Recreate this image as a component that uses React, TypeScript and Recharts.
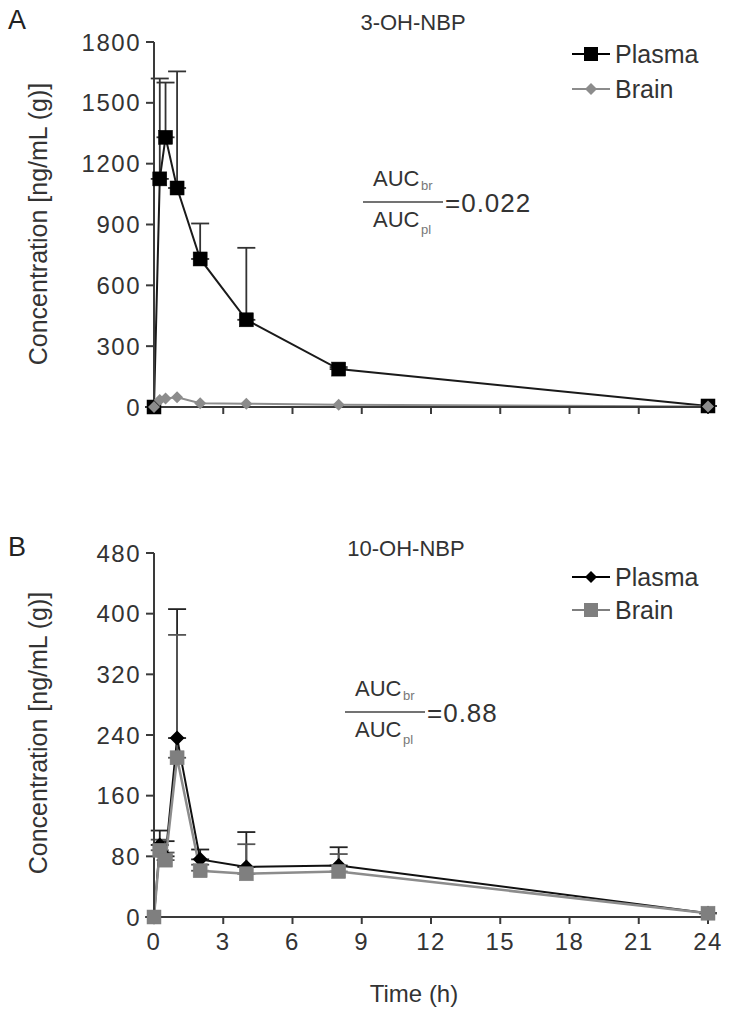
import React from 'react';
import { LineChart, Line, XAxis, YAxis, ErrorBar } from 'recharts';

// ---- data ----
const times = [0, 0.25, 0.5, 1, 2, 4, 8, 24];

// Panel A: 3-OH-NBP
const aPlasma = [0, 1125, 1330, 1080, 730, 430, 187, 5];
const aPlasmaErr = [0, 495, 270, 575, 175, 355, 10, 0];
const aBrain = [0, 35, 42, 48, 19, 16, 11, 3];

// Panel B: 10-OH-NBP
const bPlasma = [0, 95, 80, 236, 76, 66, 68, 5];
const bPlasmaErr = [0, 19, 20, 170, 13, 46, 24, 0];
const bBrain = [0, 88, 75, 210, 61, 57, 60, 5];
const bBrainErr = [0, 14, 10, 162, 8, 39, 23, 0];

const xTicks = [0, 3, 6, 9, 12, 15, 18, 21, 24];
const aYTicks = [0, 300, 600, 900, 1200, 1500, 1800];
const bYTicks = [0, 80, 160, 240, 320, 400, 480];

const aTitle = '3-OH-NBP';
const bTitle = '10-OH-NBP';
const aRatio = '=0.022';
const bRatio = '=0.88';
const yLabel = 'Concentration [ng/mL (g)]';
const xLabel = 'Time (h)';
const seriesNames = ['Plasma', 'Brain'];

const dataA = times.map((t, i) => ({
  t,
  plasma: aPlasma[i],
  plasmaErr: [0, aPlasmaErr[i]],
  brain: aBrain[i],
}));
const dataB = times.map((t, i) => ({
  t,
  plasma: bPlasma[i],
  plasmaErr: [0, bPlasmaErr[i]],
  brain: bBrain[i],
  brainErr: [0, bBrainErr[i]],
}));

const FONT = '"Liberation Sans", Arial, Helvetica, sans-serif';
const AXIS = '#3a3a3a';
const GRAY = '#8c8c8c';

const squareDot = (size: number, fill: string) => (p: any) => {
  if (p.cx == null || p.cy == null) return <g key={p.index} />;
  return (
    <rect key={p.index} x={p.cx - size / 2} y={p.cy - size / 2} width={size} height={size} fill={fill} stroke={fill} strokeWidth={0.5} />
  );
};
const diamondDot = (size: number, fill: string) => (p: any) => {
  if (p.cx == null || p.cy == null) return <g key={p.index} />;
  const h = size / 2;
  return (
    <path key={p.index} d={`M${p.cx},${p.cy - h} L${p.cx + h},${p.cy} L${p.cx},${p.cy + h} L${p.cx - h},${p.cy} Z`} fill={fill} />
  );
};

const tickStyle = { fontFamily: FONT, fontSize: 24, fill: '#333', letterSpacing: 1.5 };

function Fraction({ x, lineY, ratio }: { x: number; lineY: number; ratio: string }) {
  return (
    <g fontFamily={FONT} fill="#333">
      <text x={x + 10} y={lineY - 16} fontSize={22}>AUC</text>
      <text x={x + 58} y={lineY - 12} fontSize={13} fill="#777">br</text>
      <line x1={x} x2={x + 80} y1={lineY} y2={lineY} stroke="#444" strokeWidth={1.5} />
      <text x={x + 10} y={lineY + 25} fontSize={22}>AUC</text>
      <text x={x + 58} y={lineY + 32} fontSize={13} fill="#777">pl</text>
      <text x={x + 82} y={lineY + 10} fontSize={26} letterSpacing={1}>{ratio}</text>
    </g>
  );
}

function LegendRow({ y, label, marker, color }: { y: number; label: string; marker: 'square' | 'diamond'; color: string }) {
  const cx = 591;
  return (
    <g>
      <line x1={572} x2={610} y1={y} y2={y} stroke={color} strokeWidth={2} />
      {marker === 'square' ? (
        <rect x={cx - 7} y={y - 7} width={14} height={14} fill={color} />
      ) : (
        <path d={`M${cx},${y - 6} L${cx + 6},${y} L${cx},${y + 6} L${cx - 6},${y} Z`} fill={color} />
      )}
      <text x={615} y={y + 9} fontFamily={FONT} fontSize={25} fill="#333">{label}</text>
    </g>
  );
}

export default function App() {
  return (
    <div style={{ position: 'absolute', left: 0, top: 0, width: 729, height: 1016, background: '#fff' }}>
      <div style={{ position: 'absolute', left: 0, top: 0 }}>
        <LineChart width={729} height={437} data={dataA} margin={{ top: 42, right: 21, left: 0, bottom: 0 }}>
          <XAxis
            dataKey="t"
            type="number"
            domain={[0, 24]}
            ticks={xTicks}
            height={30}
            stroke={AXIS}
            strokeWidth={2}
            tickSize={7}
            tickFormatter={() => ''}
            tick={tickStyle}
            interval={0}
          />
          <YAxis
            type="number"
            domain={[0, 1800]}
            ticks={aYTicks}
            width={154}
            stroke={AXIS}
            strokeWidth={2}
            tickSize={8}
            tickMargin={5}
            tick={tickStyle}
            interval={0}
          />
          <Line
            dataKey="plasma"
            stroke="#1a1a1a"
            strokeWidth={2}
            isAnimationActive={false}
            dot={squareDot(14, '#000')}
            activeDot={false}
          >
            <ErrorBar dataKey="plasmaErr" direction="y" width={9} stroke="#333" strokeWidth={1.8} />
          </Line>
          <Line
            dataKey="brain"
            stroke={GRAY}
            strokeWidth={2}
            isAnimationActive={false}
            dot={diamondDot(12, GRAY)}
            activeDot={false}
          />
        </LineChart>
      </div>
      <div style={{ position: 'absolute', left: 0, top: 500 }}>
        <LineChart width={729} height={516} data={dataB} margin={{ top: 53, right: 21, left: 0, bottom: 0 }}>
          <XAxis
            dataKey="t"
            type="number"
            domain={[0, 24]}
            ticks={xTicks}
            height={99}
            stroke={AXIS}
            strokeWidth={2}
            tickSize={7}
            tickMargin={9}
            tick={tickStyle}
            interval={0}
          />
          <YAxis
            type="number"
            domain={[0, 480]}
            ticks={bYTicks}
            width={154}
            stroke={AXIS}
            strokeWidth={2}
            tickSize={8}
            tickMargin={5}
            tick={tickStyle}
            interval={0}
          />
          <Line
            dataKey="plasma"
            stroke="#111"
            strokeWidth={2}
            isAnimationActive={false}
            dot={diamondDot(15, '#000')}
            activeDot={false}
          >
            <ErrorBar dataKey="plasmaErr" direction="y" width={9} stroke="#222" strokeWidth={1.8} />
          </Line>
          <Line
            dataKey="brain"
            stroke={GRAY}
            strokeWidth={2.5}
            isAnimationActive={false}
            dot={squareDot(14, '#7f7f7f')}
            activeDot={false}
          >
            <ErrorBar dataKey="brainErr" direction="y" width={9} stroke="#555" strokeWidth={1.8} />
          </Line>
        </LineChart>
      </div>
      <svg width={729} height={1016} style={{ position: 'absolute', left: 0, top: 0, pointerEvents: 'none' }}>
        <text x={8} y={29} fontFamily={FONT} fontSize={27} fill="#222">A</text>
        <text x={8} y={556} fontFamily={FONT} fontSize={27} fill="#222">B</text>
        <text x={413} y={30} textAnchor="middle" fontFamily={FONT} fontSize={22} fill="#333">{aTitle}</text>
        <text x={406} y={556} textAnchor="middle" fontFamily={FONT} fontSize={22} fill="#333">{bTitle}</text>
        <text transform="translate(47,224) rotate(-90)" textAnchor="middle" fontFamily={FONT} fontSize={25} fill="#333">{yLabel}</text>
        <text transform="translate(47,733) rotate(-90)" textAnchor="middle" fontFamily={FONT} fontSize={25} fill="#333">{yLabel}</text>
        <text x={414} y={1002} textAnchor="middle" fontFamily={FONT} fontSize={24} fill="#333">{xLabel}</text>
        <Fraction x={363} lineY={202} ratio={aRatio} />
        <Fraction x={345} lineY={712} ratio={bRatio} />
        <LegendRow y={54} label={seriesNames[0]} marker="square" color="#000" />
        <LegendRow y={89} label={seriesNames[1]} marker="diamond" color={GRAY} />
        <LegendRow y={577} label={seriesNames[0]} marker="diamond" color="#000" />
        <LegendRow y={610} label={seriesNames[1]} marker="square" color="#7f7f7f" />
      </svg>
    </div>
  );
}
